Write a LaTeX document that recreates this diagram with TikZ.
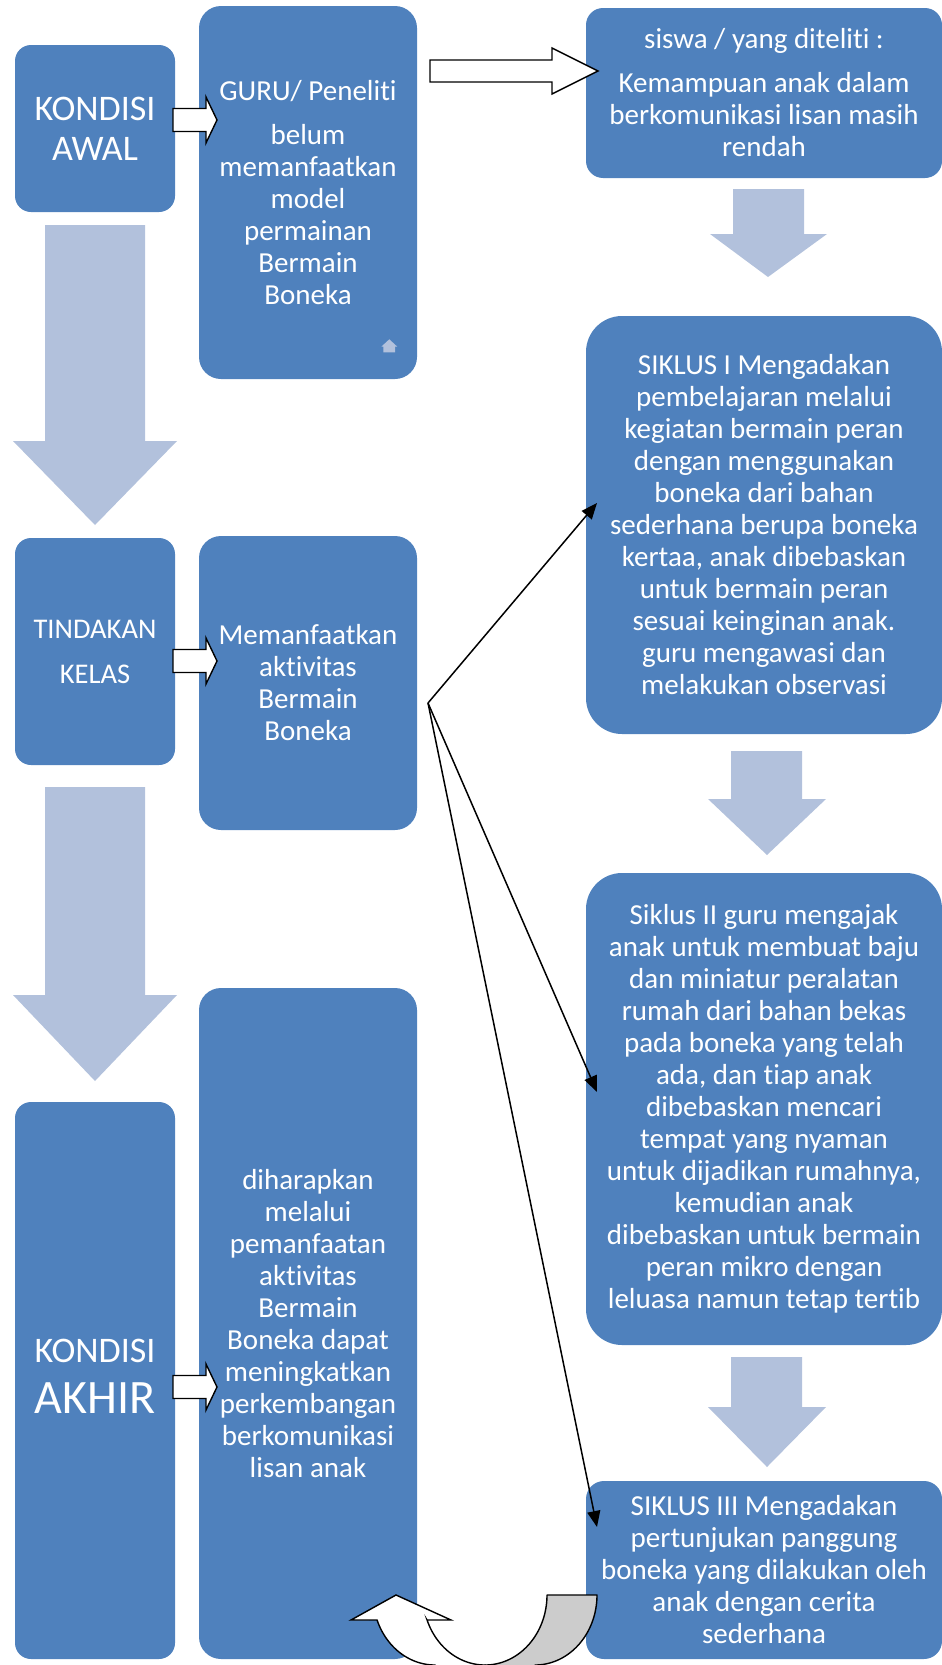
\documentclass[tikz,border=0pt]{standalone}
\usepackage{fontspec}
\setmainfont[RawFeature={-liga;-clig;-dlig;-calt;-hlig}]{Carlito}
\usetikzlibrary{arrows.meta}
\definecolor{boxblue}{RGB}{79,129,189}
\definecolor{arrowfill}{RGB}{178,193,220}
\definecolor{ugray}{RGB}{204,204,204}
\begin{document}
\begin{tikzpicture}[x=1pt,y=-1pt,
  box/.style={fill=boxblue, text=white, align=center, inner sep=0pt,
    font=\fontsize{29}{32}\selectfont},
  leftbox/.style={box, minimum width=160pt, rounded corners=16pt},
  midbox/.style={box, minimum width=218pt, rounded corners=22pt},
  rightbox/.style={box, minimum width=356pt},
  blockarrow/.style={draw=black, fill=white, line width=1.4pt, line join=miter},
  bigarrow/.style={fill=arrowfill},
  conn/.style={draw=black, line width=1.5pt, -{Triangle[length=16pt,width=13pt]}}
]
\useasboundingbox (0,0) rectangle (942,1665);
\clip (0,0) rectangle (942,1665);

% light down arrows
\fill[bigarrow] (45,225) -- (145,225) -- (145,441) -- (177,441) -- (95,525) -- (13,441) -- (45,441) -- cycle;
\fill[bigarrow] (45,787) -- (145,787) -- (145,995) -- (177,995) -- (95,1081) -- (13,995) -- (45,995) -- cycle;
\fill[bigarrow] (733,189) -- (804,189) -- (804,234) -- (827,234) -- (768,277) -- (710,234) -- (733,234) -- cycle;
\fill[bigarrow] (731,751) -- (802,751) -- (802,799) -- (826,799) -- (767,855) -- (708,799) -- (731,799) -- cycle;
\fill[bigarrow] (731,1357) -- (802,1357) -- (802,1407) -- (826,1407) -- (767,1467) -- (708,1407) -- (731,1407) -- cycle;

% boxes
\node[leftbox, minimum height=167pt, font=\fontsize{36}{40}\selectfont] (awal) at (95,128.5) {KONDISI\\AWAL};
\node[leftbox, minimum height=227pt, font=\fontsize{28.5}{32}\selectfont] (tindakan) at (95,651.5) {TINDAKAN\\[13pt]KELAS};
\node[leftbox, minimum height=557pt, font=\fontsize{36}{51}\selectfont] (akhir) at (95,1380.5) {KONDISI\\{\fontsize{48}{51}\selectfont AKHIR\rule[-9pt]{0pt}{1pt}}};

\node[midbox, minimum height=373pt] (guru) at (308,192.5) {GURU/ Peneliti\\[12pt]belum\\memanfaatkan\\model\\permainan\\Bermain\\Boneka};
\node[midbox, minimum height=294pt] (manfaat) at (308,683) {Memanfaatkan\\aktivitas\\Bermain\\Boneka};
\node[midbox, minimum height=671pt] (harap) at (308,1323.5) {diharapkan\\melalui\\pemanfaatan\\aktivitas\\Bermain\\Boneka dapat\\meningkatkan\\perkembangan\\berkomunikasi\\lisan anak};

\node[rightbox, minimum height=170pt, rounded corners=17pt] (siswa) at (764,93) {siswa / yang diteliti :\\[12pt]Kemampuan anak dalam\\berkomunikasi lisan masih\\rendah};
\node[rightbox, minimum height=418pt, rounded corners=36pt] (s1) at (764,525) {SIKLUS I Mengadakan\\pembelajaran melalui\\kegiatan bermain peran\\dengan menggunakan\\boneka dari bahan\\sederhana berupa boneka\\kertaa, anak dibebaskan\\untuk bermain peran\\sesuai keinginan anak.\\guru mengawasi dan\\melakukan observasi};
\node[rightbox, minimum height=472pt, rounded corners=36pt] (s2) at (764,1109) {Siklus II guru mengajak\\anak untuk membuat baju\\dan miniatur peralatan\\rumah dari bahan bekas\\pada boneka yang telah\\ada, dan tiap anak\\dibebaskan mencari\\tempat yang nyaman\\untuk dijadikan rumahnya,\\kemudian anak\\dibebaskan untuk bermain\\peran mikro dengan\\leluasa namun tetap tertib};
\node[rightbox, minimum height=178pt, rounded corners=18pt] (s3) at (764,1570) {SIKLUS III Mengadakan\\pertunjukan panggung\\boneka yang dilakukan oleh\\anak dengan cerita\\sederhana};

% small icon in GURU box
\fill[arrowfill] (389.3,339.3) -- (397.3,346.7) -- (395,346.7) -- (395,352.3) -- (383.3,352.3) -- (383.3,346.7) -- (381.3,346.7) -- cycle;

% hollow block arrows
\draw[blockarrow] (173,108.5) -- (206,108.5) -- (206,97) -- (217,120) -- (206,143) -- (206,131.5) -- (173,131.5) -- cycle;
\draw[blockarrow] (173,649.5) -- (206,649.5) -- (206,638) -- (217,661) -- (206,684) -- (206,672.5) -- (173,672.5) -- cycle;
\draw[blockarrow] (173,1375.5) -- (206,1375.5) -- (206,1364) -- (217,1387) -- (206,1410) -- (206,1398.5) -- (173,1398.5) -- cycle;
\draw[blockarrow] (430,60) -- (552,60) -- (552,48) -- (598,71) -- (552,94) -- (552,82) -- (430,82) -- cycle;

% thin connectors
\coordinate (src) at (428,703);
\coordinate (t1) at (597,503);
\coordinate (t2) at (597,1092);
\coordinate (t3) at (597,1527);
\draw[conn] (src) -- (t1);
\draw[conn] (src) -- (t2);
\draw[conn] (src) -- (t3);

% U-turn arrow
\draw[fill=ugray, line width=1.4pt, line join=round]
  (547,1595) -- plot[domain=0:90, samples=40, variable=\t] ({485+62*cos(\t)},{1595+70*sin(\t)})
  -- (485,1690) -- (535,1690) -- (535,1665)
  -- plot[domain=90:0, samples=40, variable=\t] ({535+62*cos(\t)},{1595+70*sin(\t)})
  -- cycle;
\draw[fill=white, line width=1.4pt, line join=miter]
  (351,1620) -- (396,1595) -- (451,1620) -- (427.1,1620)
  -- plot[domain=159.1:90, samples=40, variable=\t] ({485+62*cos(\t)},{1595+70*sin(\t)})
  -- (485,1690) -- (435,1690) -- (435,1665)
  -- plot[domain=90:159.1, samples=40, variable=\t] ({435+62*cos(\t)},{1595+70*sin(\t)})
  -- cycle;
\end{tikzpicture}
\end{document}
